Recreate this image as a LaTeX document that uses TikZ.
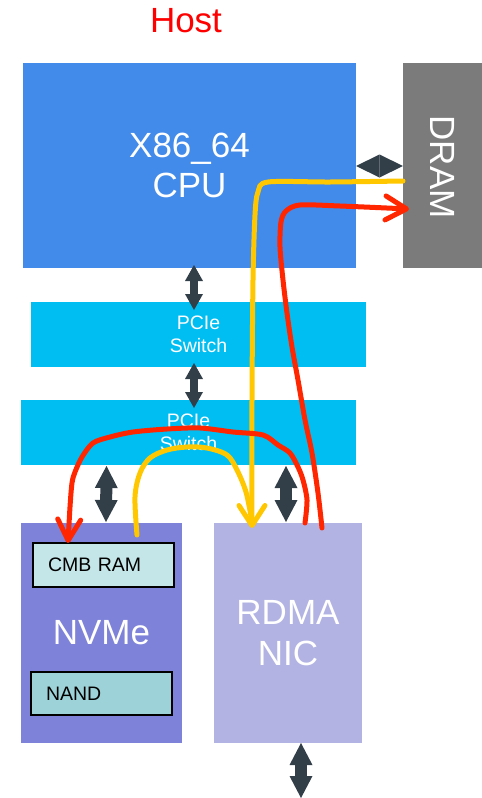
\documentclass[tikz,border=0pt]{standalone}
\usepackage{fontspec}
\setmainfont{Liberation Sans}
\usetikzlibrary{arrows.meta,calc}
\definecolor{cpuc}{RGB}{66,139,235}
\definecolor{dramc}{RGB}{123,123,123}
\definecolor{swc}{RGB}{0,190,242}
\definecolor{nvmec}{RGB}{126,130,216}
\definecolor{rdmac}{RGB}{178,179,227}
\definecolor{cmbc}{RGB}{197,230,232}
\definecolor{nandc}{RGB}{157,210,216}
\definecolor{arrc}{RGB}{50,62,72}
\definecolor{yelc}{RGB}{255,199,0}
\definecolor{redc}{RGB}{255,38,0}
\definecolor{hostc}{RGB}{255,0,0}
\newcommand\bigtxt{\fontsize{35}{40}\selectfont}
\newcommand\midtxt{\fontsize{19.5}{23}\selectfont}
\begin{document}
\begin{tikzpicture}[x=1pt,y=-1pt,
  box/.style={rectangle, inner sep=0pt, outer sep=0pt, text=white, align=center},
  subbox/.style={rectangle, draw=black, line width=1.2pt, inner sep=0pt, outer sep=0pt,
    text=black, font=\midtxt, minimum width=141pt, text width=111pt, align=left},
  dblsmall/.style={draw=arrc, line width=8pt,
    {Triangle[width=18pt,length=16pt,line width=0pt]}-{Triangle[width=18pt,length=16pt,line width=0pt]}},
  dblbig/.style={draw=arrc, line width=12pt,
    {Triangle[width=23pt,length=22pt,line width=0pt]}-{Triangle[width=23pt,length=22pt,line width=0pt]}},
  pen/.style={line width=5pt, line cap=round, line join=round},
  yel/.style={pen, draw=yelc},
  redl/.style={pen, draw=redc}
]
\useasboundingbox (0,0) rectangle (482,798);

% title
\node[text=hostc, font=\bigtxt, inner sep=0pt] (host) at (186,21) {Host};

% boxes
\node[box, fill=cpuc, minimum width=333pt, minimum height=205pt, font=\bigtxt] (cpu) at (189.5,165.5) {X86\_64\\CPU};
\node[box, fill=dramc, minimum width=79pt, minimum height=205pt] (dram) at (442.5,165.5) {};
\node[text=white, font=\bigtxt, rotate=-90, inner sep=0pt] (dramlbl) at ($(dram.center)+(0,1.5)$) {DRAM};
\node[box, fill=swc, minimum width=335pt, minimum height=65pt, font=\midtxt] (sw1) at (198.5,334.5) {PCIe\\Switch};
\node[box, fill=swc, minimum width=335pt, minimum height=65pt, font=\midtxt] (sw2) at (188.5,432.5) {PCIe\\Switch};
\node[box, fill=nvmec, minimum width=161pt, minimum height=220pt, font=\bigtxt] (nvme) at (101.5,633) {NVMe};
\node[subbox, fill=cmbc, minimum height=44pt] (cmb) at (103.5,565) {CMB RAM};
\node[subbox, fill=nandc, minimum height=43pt] (nand) at (101.5,693.5) {NAND};
\node[box, fill=rdmac, minimum width=148pt, minimum height=220pt, font=\fontsize{35}{41}\selectfont] (rdma) at (288,633) {RDMA\\NIC};

\coordinate (net) at (301,798);

% double arrows
\draw[dblsmall] ($(cpu.south)+(4.5,-3)$) -- ($(sw1.north)+(-4.5,8)$);
\draw[dblsmall] ($(sw1.south)+(-4.5,-4)$) -- ($(sw2.north)+(5.5,8)$);
\draw[dblbig] ($(sw2.south)+(-82,1)$) -- ($(nvme.north)+(4.5,-1)$);
\draw[dblbig] ($(sw2.south)+(97.5,1)$) -- ($(rdma.north)+(-2,-1)$);
\draw[dblbig] ($(rdma.south)+(13,0)$) -- (net);
\draw[draw=arrc, line width=1pt,
  {Triangle[width=23pt,length=23.5pt,line width=0pt]}-{Triangle[width=23pt,length=23.5pt,line width=0pt]}]
  ($(cpu.east)+(0,0.5)$) -- ($(dram.west)+(0,0.5)$);

% pen strokes
\coordinate (y1s) at ($(dram.west)+(0,15.5)$);
\coordinate (ytip) at ($(rdma.north)+(-36,5)$);
\coordinate (y2s) at ($(nvme.north)+(35.5,12)$);
\coordinate (y2e) at ($(rdma.north)+(-36.5,-4)$);
\coordinate (r1s) at ($(rdma.north)+(34,5)$);
\coordinate (r1e) at ($(dram.west)+(6,43.5)$);
\coordinate (r2s) at ($(rdma.north)+(17,0)$);
\coordinate (r2e) at ($(cmb.north)+(-35.5,0)$);

\draw[yel, -{Straight Barb[length=20pt,width=26pt,round]}]
  plot[smooth, tension=0.5] coordinates {(y1s) (330,182) (268,182) (258,192) (255,215) (253,280) (252,400) (ytip)};
\draw[yel]
  plot[smooth, tension=0.55] coordinates {(y2s) (135,497) (140,473) (150,458) (167,450) (187,447) (207,448) (227,455) (237,470) (246,492) (y2e)};
\draw[redl, -{Straight Barb[length=21pt,width=24pt,round]}]
  plot[smooth, tension=0.5] coordinates {(r1s) (318,493) (312,453) (305,420) (298,380) (292,347) (287,313) (283,280) (280,247) (281,222) (286,211) (300,205) (340,206) (r1e)};
\draw[redl, -{Straight Barb[length=21pt,width=23pt,round]}]
  plot[smooth, tension=0.5] coordinates {(r2s) (307,500) (303,480) (298,467) (290,453) (278,445) (263,435) (233,432) (200,428) (167,429) (133,432) (110,437) (93,443) (82,457) (75,472) (72,483) (70,507) (r2e)};
\end{tikzpicture}
\end{document}
